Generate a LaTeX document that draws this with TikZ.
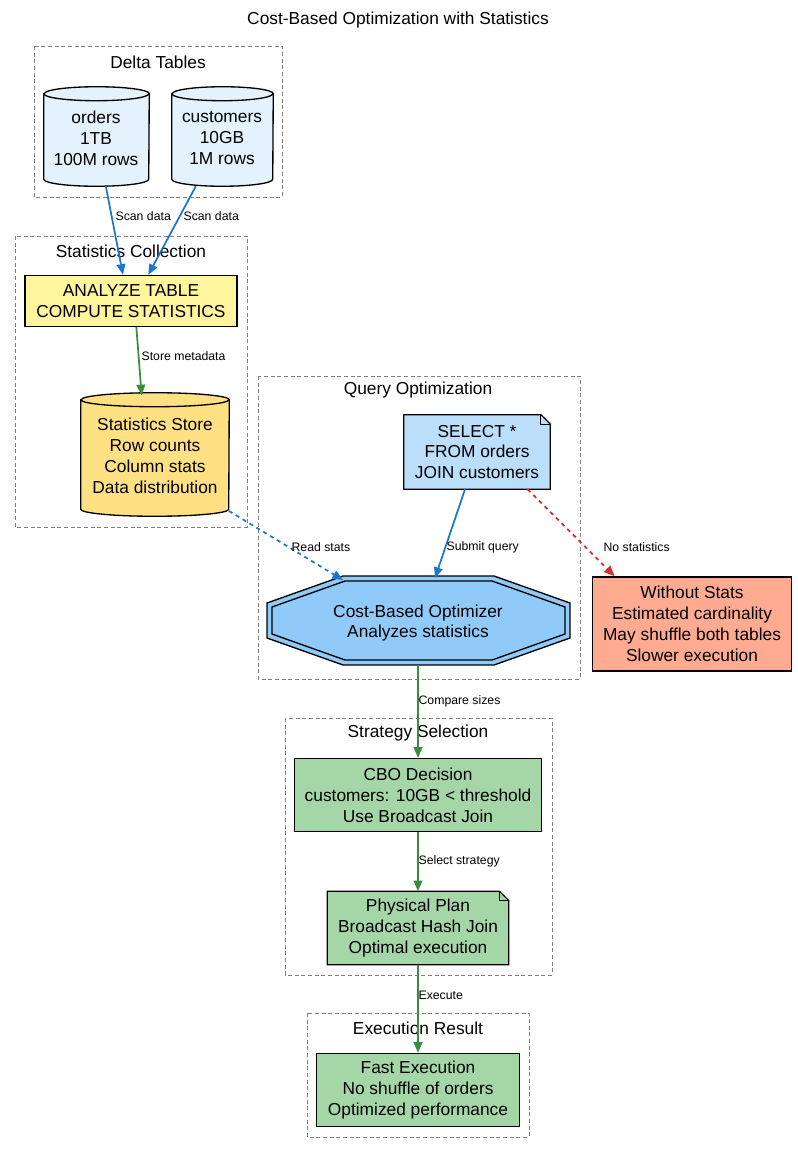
\documentclass[tikz,border=0pt]{standalone}
\usepackage{fontspec}
\setmainfont{Liberation Sans}
\usetikzlibrary{shapes.geometric,arrows.meta,backgrounds,calc}
\definecolor{eblue}{HTML}{1976D2}
\definecolor{egreen}{HTML}{388E3C}
\definecolor{ered}{HTML}{D32F2F}
\definecolor{cblue}{HTML}{E3F2FD}
\definecolor{cyel}{HTML}{FFF59D}
\definecolor{camber}{HTML}{FFE082}
\definecolor{notef}{HTML}{BBDEFB}
\definecolor{noteg}{HTML}{A5D6A7}
\definecolor{optf}{HTML}{90CAF9}
\definecolor{redf}{HTML}{FFAB91}
% #1 node name, #2 fill
\newcommand\mycyl[2]{%
  \filldraw[line width=1pt,fill=#2] ([yshift=-5.25pt]#1.north west) -- ([yshift=5.25pt]#1.south west)
    arc[start angle=180,end angle=360,x radius={0.5*\wd0},y radius=5.25pt] -- ([yshift=-5.25pt]#1.north east)
    arc[start angle=0,end angle=180,x radius={0.5*\wd0},y radius=5.25pt] -- cycle;
  \draw[line width=1pt] ([yshift=-5.25pt]#1.north west) arc[start angle=180,end angle=360,x radius={0.5*\wd0},y radius=5.25pt];}
\begin{document}
\begin{tikzpicture}[x=0.75pt,y=-0.75pt,
  txt/.style={font=\fontsize{13}{15.7}\selectfont,align=center,text=black},
  box/.style={txt,draw,line width=1pt,rectangle,inner sep=0pt},
  note/.style={txt,inner sep=0pt,rectangle},
  cluster/.style={draw=gray,dash pattern=on 3pt off 2pt,line width=0.6pt},
  clabel/.style={font=\fontsize{13}{15}\selectfont},
  elab/.style={font=\fontsize{9.2}{11}\selectfont,anchor=west,inner sep=1pt,text=black},
  arr/.style={line width=1.3pt,-{Triangle[length=8pt,width=6.5pt]}},
]
\useasboundingbox (0,0) rectangle (797,1152);
\node[clabel] (title) at (398,20) {Cost-Based Optimization with Statistics};
% clusters
\draw[cluster] (34,46) rectangle (282,197);
\node[clabel] (l1) at (158,62) {Delta Tables};
\draw[cluster] (15,236) rectangle (247,527);
\node[clabel] (l2) at (131,251) {Statistics Collection};
\draw[cluster] (258,376) rectangle (580,679);
\node[clabel] (l3) at (418,390) {Query Optimization};
\draw[cluster] (285,718) rectangle (552,975);
\node[clabel] (l4) at (418,733) {Strategy Selection};
\draw[cluster] (307,1013) rectangle (529,1137);
\node[clabel] (l5) at (418,1028) {Execution Result};
% cylinders
\node[note,minimum width=78.75pt,minimum height=74.25pt] (orders) at (96.5,136.5) {};
\setbox0=\hbox to 78.75pt{}\mycyl{orders}{cblue}
\node[txt] (ordt) at (96,138) {orders\\1TB\\100M rows};
\node[note,minimum width=75.75pt,minimum height=74.25pt] (cust) at (222.5,136.5) {};
\setbox0=\hbox to 75.75pt{}\mycyl{cust}{cblue}
\node[txt] (custt) at (222,138) {customers\\10GB\\1M rows};
\node[note,minimum width=111pt,minimum height=92.25pt] (store) at (155,454.5) {};
\setbox0=\hbox to 111pt{}\mycyl{store}{camber}
\node[txt] (storet) at (155,456) {Statistics Store\\Row counts\\Column stats\\Data distribution};
% nodes
\node[box,fill=cyel,minimum width=159pt,minimum height=38.25pt] (analyze) at (131,301) {ANALYZE TABLE\\COMPUTE STATISTICS};
\node[note,minimum width=109.5pt,minimum height=55.5pt] (select) at (477,452) {SELECT *\\FROM orders\\JOIN customers};
\node[note,minimum width=227.25pt,minimum height=66.75pt] (cbo) at (418,623) {Cost-Based Optimizer\\Analyzes statistics};
\node[box,fill=redf,minimum width=149.25pt,minimum height=70.5pt] (without) at (692,624) {Without Stats\\Estimated cardinality\\May shuffle both tables\\Slower execution};
\node[box,fill=noteg,minimum width=185.25pt,minimum height=54.75pt] (decision) at (418,795) {CBO Decision\\customers: 10GB < threshold\\Use Broadcast Join};
\node[note,minimum width=135.75pt,minimum height=54.75pt] (plan) at (418,928) {Physical Plan\\Broadcast Hash Join\\Optimal execution};
\node[box,fill=noteg,minimum width=152.25pt,minimum height=54.75pt] (fast) at (418,1090) {Fast Execution\\No shuffle of orders\\Optimized performance};
\begin{scope}[on background layer]
\draw[line width=1pt,fill=notef] (select.south west) -- (select.north west) -- ([xshift=-7pt]select.north east) -- ([yshift=-7pt]select.north east) -- (select.south east) -- cycle;
\draw[line width=0.8pt] ([xshift=-7pt]select.north east) |- ([yshift=-7pt]select.north east);
\draw[line width=1pt,fill=noteg] (plan.south west) -- (plan.north west) -- ([xshift=-7pt]plan.north east) -- ([yshift=-7pt]plan.north east) -- (plan.south east) -- cycle;
\draw[line width=0.8pt] ([xshift=-7pt]plan.north east) |- ([yshift=-7pt]plan.north east);
\draw[line width=1pt,fill=optf] (343,576) -- (494,576) -- (570,603) -- (570,638) -- (494,665) -- (343,665) -- (267,638) -- (267,603) -- cycle;
\draw[line width=1pt] (345,581) -- (492,581) -- (565,607) -- (565,634) -- (492,660) -- (345,660) -- (272,634) -- (272,607) -- cycle;
\end{scope}
\coordinate (rs) at (229,511);
% edges
\draw[arr,eblue] ([xshift=7]orders.south) -- ([xshift=-6]analyze.north);
\node[elab] (e1) at (114,216) {Scan data};
\draw[arr,eblue] ([xshift=-20]cust.south) -- ([xshift=13]analyze.north);
\node[elab] (e2) at (182,216) {Scan data};
\draw[arr,egreen] ([xshift=4]analyze.south) -- ([xshift=-10,yshift=-2]store.north);
\node[elab] (e3) at (140,356) {Store metadata};
\draw[arr,eblue,dashed] (rs) -- (343,580);
\node[elab] (e4) at (290,547) {Read stats};
\draw[arr,eblue] ([xshift=-9]select.south) -- (435,578);
\node[elab] (e5) at (445,547) {Submit query};
\draw[arr,ered,dashed] ([xshift=38]select.south) -- ([xshift=-58]without.north);
\node[elab] (e6) at (602,547) {No statistics};
\draw[arr,egreen] (418,665) -- (decision.north);
\node[elab] (e7) at (417,701) {Compare sizes};
\draw[arr,egreen] (decision.south) -- (plan.north);
\node[elab] (e8) at (417,861) {Select strategy};
\draw[arr,egreen] (plan.south) -- (fast.north);
\node[elab] (e9) at (417,995) {Execute};
\end{tikzpicture}
\end{document}
